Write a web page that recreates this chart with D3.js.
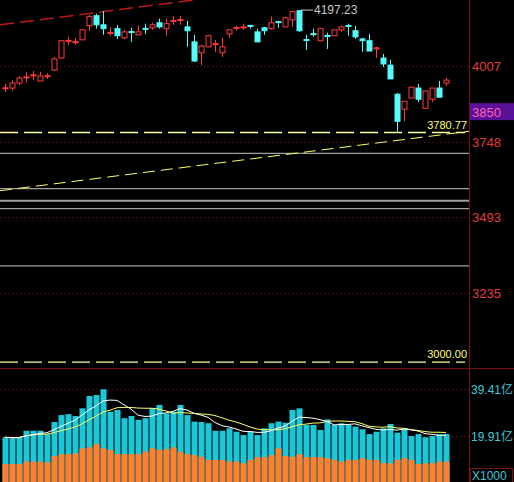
<!DOCTYPE html>
<html>
<head>
<meta charset="utf-8">
<script src="https://cdn.jsdelivr.net/npm/d3@7"></script>
<style>
  body { margin: 0; background: #000; }
  svg { display: block; }
  text { font-family: "Liberation Sans", Arial, "Noto Sans CJK SC", sans-serif; }
</style>
</head>
<body>
<svg id="chart" width="514" height="482"></svg>
<script>
// daily candles [open, close, high, low]
const candles = [
  [3932,3933,3946,3918],[3932,3949,3959,3922],[3949,3966,3973,3942],[3968,3970,3987,3952],
  [3975,3977,3990,3959],[3956,3973,3987,3956],[3972,3974,3983,3963],[3993,4031,4038,3990],
  [4034,4093,4093,4031],[4092,4094,4106,4079],[4088,4090,4103,4079],[4096,4130,4130,4096],
  [4144,4175,4181,4127],[4178,4147,4185,4134],[4147,4134,4194,4113],[4119,4121,4140,4110],
  [4134,4110,4147,4099],[4103,4123,4130,4099],[4124,4122,4137,4089],[4113,4123,4144,4113],
  [4135,4133,4151,4116],[4137,4147,4154,4130],[4154,4140,4168,4134],[4134,4151,4168,4110],
  [4160,4162,4178,4147],[4163,4165,4178,4147],[4140,4127,4161,4072],[4089,4024,4113,4021],
  [4052,4075,4079,4010],[4072,4110,4113,4072],[4081,4083,4096,4055],[4052,4072,4103,4038],
  [4116,4130,4130,4103],[4136,4138,4144,4127],[4137,4140,4151,4130],[4145,4143,4147,4134],
  [4123,4089,4134,4089],[4137,4127,4140,4113],[4134,4154,4175,4130],[4158,4156,4161,4137],
  [4140,4171,4175,4140],[4164,4192,4195,4140],[4195,4127,4197.23,4123],[4097,4095,4113,4062],
  [4117,4115,4134,4106],[4093,4134,4137,4093],[4111,4109,4120,4065],[4110,4130,4130,4110],
  [4130,4140,4144,4123],[4145,4143,4151,4110],[4127,4106,4144,4099],[4099,4093,4103,4055],
  [4093,4058,4116,4058],[4065,4069,4072,4034],[4034,4014,4048,4004],[4010,3963,4028,3963],
  [3911,3819,3915,3780.77],[3860,3887,3887,3819],[3898,3935,3935,3898],[3932,3894,3946,3884],
  [3863,3922,3922,3863],[3894,3932,3932,3884],[3932,3901,3956,3901],[3949,3959,3966,3939]
];
// volume, 亿
const volTotal = [19.4,19.0,19.4,22.1,22.1,22.1,20.7,25.7,28.6,29.0,28.2,31.4,36.5,36.9,39.3,30.0,
  30.7,27.3,28.2,26.6,27.3,31.4,32.8,29.3,30.0,32.8,28.6,25.9,25.7,25.2,22.1,22.1,
  23.1,21.7,20.3,21.7,20.3,23.1,25.2,25.9,25.4,30.7,31.4,24.5,24.5,22.4,26.8,24.5,
  25.2,24.5,23.8,22.7,20.7,21.7,23.1,24.9,21.3,23.1,19.9,20.7,19.4,19.9,20.7,20.7];
const volPart = [8.3,8.3,8.3,9.3,9.3,9.3,8.9,11.6,12.4,12.4,12.7,14.8,15.2,16.6,14.8,14.1,
  12.4,12.4,12.4,12.4,13.4,14.8,14.1,14.4,15.2,13.4,12.4,12.0,11.3,10.0,10.0,10.0,
  9.3,9.3,8.6,10.0,11.1,11.1,12.0,14.8,11.6,11.3,12.4,11.1,11.1,11.1,10.7,10.0,
  9.3,10.0,10.0,10.7,10.0,10.0,8.6,8.6,10.0,10.7,10.0,8.3,8.6,8.6,9.3,9.3];
const priceTicks = [4007, 3748, 3493, 3235];
const volTicks = [39.41, 19.91];
const greyLevels = [3710, 3590, 3549, 3522, 3327];
const dashLevels = [3780.77, 3000.00];
const yellowTrend = [[-0.7, 3583], [66.3, 3785]];
const redTrend = [[-0.7, 4147], [27.2, 4232]];
const markPrice = 3850;

const svg = d3.select("#chart");
const W = 514, axisX = 469;
const x = d3.scaleLinear().domain([0, 63]).range([5, 446]);
const y = d3.scaleLinear().domain([3235, 4007]).range([293, 66]);
const yv = d3.scaleLinear().domain([0, 39.41]).range([484, 389]);
const RED = "#ff3a3a", CYAN = "#54fcfc", GRID = "#7a1010";

svg.append("rect").attr("width", W).attr("height", 482).attr("fill", "#000");

// grid
priceTicks.forEach(p => svg.append("line").attr("x1", 0).attr("x2", axisX)
  .attr("y1", Math.round(y(p)) + .5).attr("y2", Math.round(y(p)) + .5)
  .attr("stroke", GRID).attr("stroke-dasharray", "1,3"));
volTicks.forEach(v => svg.append("line").attr("x1", 0).attr("x2", axisX)
  .attr("y1", Math.round(yv(v)) + .5).attr("y2", Math.round(yv(v)) + .5)
  .attr("stroke", GRID).attr("stroke-dasharray", "1,3"));

greyLevels.forEach((p, i) => svg.append("line").attr("x1", 0).attr("x2", axisX)
  .attr("y1", y(p)).attr("y2", y(p)).attr("stroke", "#a0a0a0")
  .attr("stroke-width", i == 2 ? 2 : 1.2));
dashLevels.forEach(p => {
  svg.append("line").attr("x1", 0).attr("x2", axisX - 4).attr("y1", y(p)).attr("y2", y(p))
    .attr("stroke", "#ffffa0").attr("stroke-width", 1.3).attr("stroke-dasharray", "18,6");
  svg.append("text").attr("x", axisX - 2).attr("y", y(p) - 4).attr("text-anchor", "end")
    .attr("fill", "#ffff80").attr("font-size", 11).text(p.toFixed(2));
});
const trendLine = d3.line().x(d => x(d[0])).y(d => y(d[1]));
svg.append("path").attr("d", trendLine(yellowTrend)).attr("stroke", "#ffff60")
  .attr("fill", "none").attr("stroke-dasharray", "12,6");
svg.append("path").attr("d", trendLine(redTrend)).attr("stroke", "#c01818")
  .attr("stroke-width", 1.5).attr("fill", "none").attr("stroke-dasharray", "14,6");

// candles
const c = svg.append("g").selectAll("g").data(candles).join("g");
c.append("line").attr("x1", (d, i) => x(i) + .5).attr("x2", (d, i) => x(i) + .5)
  .attr("y1", d => y(d[2])).attr("y2", d => y(d[3]))
  .attr("stroke", d => d[1] >= d[0] ? RED : CYAN);
c.append("rect").attr("x", (d, i) => x(i) - 2).attr("width", 5)
  .attr("y", d => y(Math.max(d[0], d[1])))
  .attr("height", d => Math.max(1, Math.abs(y(d[0]) - y(d[1]))))
  .attr("fill", d => d[1] >= d[0] ? "#000" : CYAN)
  .attr("stroke", d => d[1] >= d[0] ? RED : CYAN);

// high marker
const hiIdx = d3.maxIndex(candles, d => d[2]);
const hi = candles[hiIdx][2];
svg.append("line").attr("x1", x(hiIdx) + 2).attr("x2", x(hiIdx) + 14)
  .attr("y1", y(hi)).attr("y2", y(hi)).attr("stroke", "#c8c8c8");
svg.append("text").attr("x", x(hiIdx) + 15).attr("y", y(hi) + 4)
  .attr("fill", "#c8c8c8").attr("font-size", 12).text(hi.toFixed(2));

// volume
svg.append("line").attr("x1", 0).attr("x2", W).attr("y1", 368.5).attr("y2", 368.5).attr("stroke", GRID);
const vb = svg.append("g");
vb.selectAll(".t").data(volTotal).join("rect")
  .attr("x", (d, i) => x(i) - 2.5).attr("width", 6)
  .attr("y", d => yv(d)).attr("height", d => 484 - yv(d)).attr("fill", "#1cc8d8");
vb.selectAll(".p").data(volPart).join("rect")
  .attr("x", (d, i) => x(i) - 2.5).attr("width", 6)
  .attr("y", d => yv(d)).attr("height", d => 484 - yv(d)).attr("fill", "#ff8030");
const ma = n => volTotal.map((v, i) => d3.mean(volTotal.slice(Math.max(0, i - n + 1), i + 1)));
const vl = d3.line().x((d, i) => x(i)).y(d => yv(d));
svg.append("path").attr("d", vl(ma(10))).attr("stroke", "#ffff60").attr("fill", "none");
svg.append("path").attr("d", vl(ma(5))).attr("stroke", "#ffffff").attr("fill", "none");

// right axis
svg.append("rect").attr("x", axisX + 1).attr("y", 0).attr("width", W - axisX).attr("height", 482).attr("fill", "#000");
svg.append("line").attr("x1", axisX + .5).attr("x2", axisX + .5).attr("y1", 0).attr("y2", 482).attr("stroke", GRID);
svg.append("line").attr("x1", axisX).attr("x2", W).attr("y1", 368.5).attr("y2", 368.5).attr("stroke", GRID);
priceTicks.forEach(p => svg.append("text").attr("x", 472).attr("y", y(p) + 5)
  .attr("fill", "#e03c3c").attr("font-size", 13).text(p));
volTicks.forEach(v => svg.append("text").attr("x", 471).attr("y", yv(v) + 5)
  .attr("fill", "#3cc8d8").attr("font-size", 12).text(v.toFixed(2) + "亿"));
svg.append("rect").attr("x", 470).attr("y", y(markPrice) - 9).attr("width", 44).attr("height", 17).attr("fill", "#5a1098");
svg.append("text").attr("x", 472).attr("y", y(markPrice) + 5)
  .attr("fill", "#ff60b0").attr("font-size", 13).text(markPrice);
svg.append("rect").attr("x", 470.5).attr("y", 468.5).attr("width", 42).attr("height", 14)
  .attr("fill", "none").attr("stroke", GRID);
svg.append("text").attr("x", 472).attr("y", 480).attr("fill", "#3cc8d8").attr("font-size", 12).text("X1000");
</script>
</body>
</html>
